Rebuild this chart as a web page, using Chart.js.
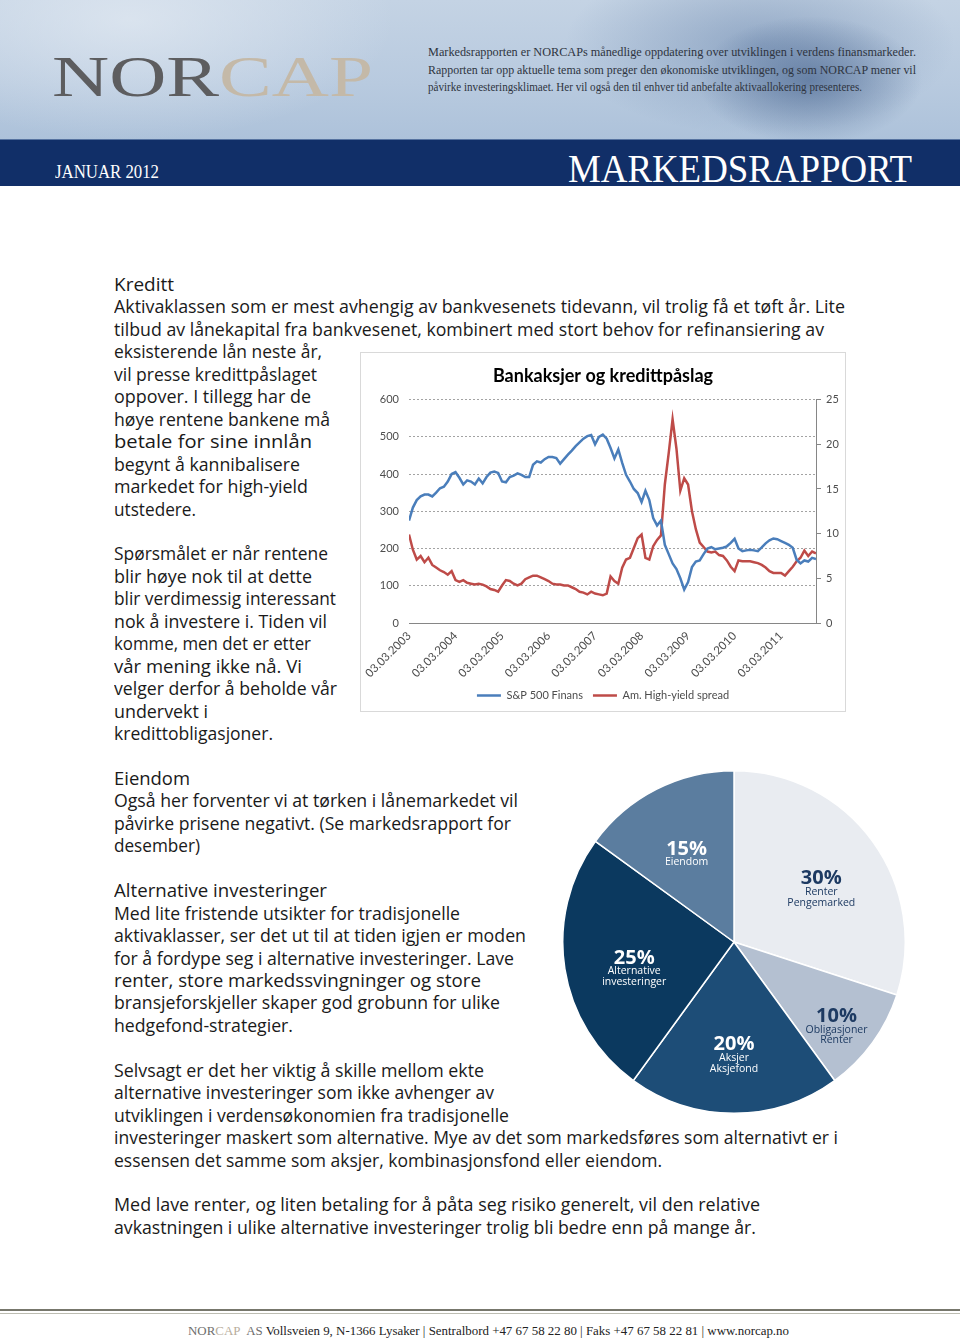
<!DOCTYPE html>
<html lang="no">
<head>
<meta charset="utf-8">
<title>NORCAP Markedsrapport januar 2012</title>
<script src="https://cdn.jsdelivr.net/npm/chart.js@4.4.1/dist/chart.umd.min.js"></script>
<style>
  html, body { margin: 0; padding: 0; background: #fff; }
  #page { position: relative; width: 960px; height: 1341px; overflow: hidden; background: #fff; }
  #header {
    position: absolute; left: 0; top: 0; width: 960px; height: 140px;
    background:
      radial-gradient(ellipse 150px 85px at 810px 80px, rgba(55,85,130,0.55), rgba(55,85,130,0) 75%),
      radial-gradient(ellipse 260px 120px at 760px 45px, rgba(90,120,162,0.45), rgba(90,120,162,0) 75%),
      radial-gradient(ellipse 330px 150px at 130px 20px, rgba(228,235,243,0.7), rgba(228,235,243,0) 80%),
      linear-gradient(180deg, #c4d3e4 0%, #b8cadf 60%, #adc2da 100%);
  }
  #band { position: absolute; left: 0; top: 139px; width: 960px; height: 46px; background: #112f68; border-top: 1px solid #5673a0; }
  .ln { position: absolute; white-space: nowrap; transform-origin: 0 0; }
  .serif { font-family: "Liberation Serif", "DejaVu Serif", serif; }
  .txt { font-family: "Open Sans", "Noto Sans", sans-serif; font-size: 18px; line-height: 22px; color: #1a1a1a; left: 114px; }
  #lineBox { position: absolute; left: 360px; top: 352px; width: 484px; height: 358px; border: 1px solid #d9d9d9; background: #fff; }
  #pieBox { position: absolute; left: 562px; top: 770px; width: 344px; height: 344px; }
  #rule1 { position: absolute; left: 0; top: 1309px; width: 960px; height: 2px; background: #77776c; }
  #rule2 { position: absolute; left: 0; top: 1313px; width: 960px; height: 1px; background: #bdbdb2; }
</style>
</head>
<body>
<div id="page">
  <div id="header"></div>
  <div id="band"></div>

  <div class="ln serif" data-w="321" style="left:52px; top:48px; font-size:58px; line-height:58px;"><span style="color:#5d5d5f">NOR</span><span style="color:#c4b9a8">CAP</span></div>

  <div class="ln serif" data-w="488" style="left:428px; top:45px; font-size:11.5px; line-height:14px; color:#2e3440;">Markedsrapporten er NORCAPs månedlige oppdatering over utviklingen i verdens finansmarkeder.</div>
  <div class="ln serif" data-w="488" style="left:428px; top:63px; font-size:11.5px; line-height:14px; color:#2e3440;">Rapporten tar opp aktuelle tema som preger den økonomiske utviklingen, og som NORCAP mener vil</div>
  <div class="ln serif" data-w="434" style="left:428px; top:80px; font-size:11.5px; line-height:14px; color:#2e3440;">påvirke investeringsklimaet. Her vil også den til enhver tid anbefalte aktivaallokering presenteres.</div>

  <div class="ln serif" data-w="104" style="left:55px; top:163px; font-size:18px; line-height:18px; color:#fff;">JANUAR 2012</div>
  <div class="ln serif" data-w="344" style="left:568px; top:148px; font-size:41px; line-height:41px; color:#fff;">MARKEDSRAPPORT</div>

  <div id="lineBox"><canvas id="lineChart" width="484" height="358"></canvas></div>
  <div id="pieBox"><canvas id="pieChart" width="344" height="344"></canvas></div>

  <div id="rule1"></div>
  <div id="rule2"></div>
  <div class="ln serif" data-w="601" style="left:188px; top:1323px; font-size:13px; line-height:15px; color:#222;"><span style="color:#6e6e6e">NOR</span><span style="color:#b8ad9c">CAP</span><span style="color:#6e6e6e">&nbsp; AS</span> Vollsveien 9, N-1366 Lysaker | Sentralbord +47 67 58 22 80 | Faks +47 67 58 22 81 | www.norcap.no</div>
</div>

<script>
// Line chart data: monthly readings, March 2003 - December 2011
const yearTicks = ['03.03.2003', '03.03.2004', '03.03.2005', '03.03.2006', '03.03.2007',
  '03.03.2008', '03.03.2009', '03.03.2010', '03.03.2011'];

const sp500Finans = [
  275, 310, 330, 340, 345, 345, 340, 350, 362, 366,
  380, 400, 405, 390, 372, 383, 380, 372, 388, 375,
  392, 404, 407, 403, 380, 378, 392, 396, 402, 398,
  392, 392, 425, 434, 431, 440, 446, 446, 443, 428,
  440, 452, 463, 475, 485, 495, 502, 505, 480, 500,
  506, 495, 470, 442, 466, 430, 398, 380, 360, 349,
  325, 355, 330, 282, 262, 275, 210, 185, 160, 145,
  120, 90, 110, 150, 165, 168, 185, 200, 204, 198,
  200, 202, 206, 215, 226, 200, 193, 195, 197, 195,
  193, 203, 214, 222, 227, 225, 220, 215, 210, 202,
  170, 160, 168, 165, 175, 172
];

const highYieldSpread = [
  9.9, 8.2, 7.1, 7.5, 6.8, 7.3, 6.5, 6.2, 5.9, 5.7,
  5.4, 5.8, 4.8, 4.6, 4.8, 4.5, 4.4, 4.3, 4.4, 4.3,
  4.1, 3.8, 3.7, 3.5, 4.2, 4.8, 4.7, 4.4, 4.2, 4.4,
  4.9, 5.1, 5.3, 5.3, 5.1, 4.9, 4.7, 4.4, 4.3, 4.3,
  4.2, 4.2, 4.0, 3.8, 3.5, 3.4, 3.2, 3.5, 3.3, 3.2,
  3.1, 3.3, 5.2, 4.7, 4.4, 6.2, 7.1, 7.3, 8.4, 9.5,
  9.9, 7.3, 7.1, 8.6, 9.3, 9.8, 15.5, 19.0, 22.8, 19.5,
  14.8, 16.2, 15.5, 12.5, 10.5, 9.0, 8.5, 8.0, 7.9, 8.0,
  7.6, 7.5, 7.0, 6.3, 5.8, 7.0, 6.9, 6.9, 6.9, 6.8,
  6.7, 6.5, 6.2, 5.8, 5.6, 5.6, 5.6, 5.3, 5.8, 6.3,
  6.9, 7.3, 8.1, 7.5, 8.0, 7.8
];

// Pie chart data (clockwise from 12 o'clock)
const pieValues = [30, 10, 20, 25, 15];
const pieNames = [
  ['Renter', 'Pengemarked'],
  ['Obligasjoner', 'Renter'],
  ['Aksjer', 'Aksjefond'],
  ['Alternative', 'investeringer'],
  ['Eiendom']
];

// Body text lines, one entry per printed line (null = blank line), with target width
const bodyLines = [
  ['Kreditt', 60],
  ['Aktivaklassen som er mest avhengig av bankvesenets tidevann, vil trolig få et tøft år. Lite', 731],
  ['tilbud av lånekapital fra bankvesenet, kombinert med stort behov for refinansiering av', 710],
  ['eksisterende lån neste år,', 208],
  ['vil presse kredittpåslaget', 203],
  ['oppover. I tillegg har de', 197],
  ['høye rentene bankene må', 216],
  ['betale for sine innlån', 198],
  ['begynt å kannibalisere', 186],
  ['markedet for high-yield', 194],
  ['utstedere.', 82],
  null,
  ['Spørsmålet er når rentene', 214],
  ['blir høye nok til at dette', 198],
  ['blir verdimessig interessant', 222],
  ['nok å investere i. Tiden vil', 213],
  ['komme, men det er etter', 197],
  ['vår mening ikke nå. Vi', 188],
  ['velger derfor å beholde vår', 223],
  ['undervekt i', 94],
  ['kredittobligasjoner.', 159],
  null,
  ['Eiendom', 76],
  ['Også her forventer vi at tørken i lånemarkedet vil', 404],
  ['påvirke prisene negativt. (Se markedsrapport for', 397],
  ['desember)', 86],
  null,
  ['Alternative investeringer', 213],
  ['Med lite fristende utsikter for tradisjonelle', 346],
  ['aktivaklasser, ser det ut til at tiden igjen er moden', 412],
  ['for å fordype seg i alternative investeringer. Lave', 400],
  ['renter, store markedssvingninger og store', 367],
  ['bransjeforskjeller skaper god grobunn for ulike', 386],
  ['hedgefond-strategier.', 179],
  null,
  ['Selvsagt er det her viktig å skille mellom ekte', 370],
  ['alternative investeringer som ikke avhenger av', 380],
  ['utviklingen i verdensøkonomien fra tradisjonelle', 395],
  ['investeringer maskert som alternative. Mye av det som markedsføres som alternativt er i', 724],
  ['essensen det samme som aksjer, kombinasjonsfond eller eiendom.', 548],
  null,
  ['Med lave renter, og liten betaling for å påta seg risiko generelt, vil den relative', 646],
  ['avkastningen i ulike alternative investeringer trolig bli bedre enn på mange år.', 642]
];

const page = document.getElementById('page');

function addBodyText() {
  bodyLines.forEach((line, k) => {
    if (!line) return;
    const el = document.createElement('div');
    el.className = 'ln txt';
    el.textContent = line[0];
    el.dataset.w = line[1];
    el.style.top = (273 + 22.45 * k) + 'px';
    page.appendChild(el);
  });
}

// squeeze / stretch each printed line to the width it has in the scan
function fitLines() {
  document.querySelectorAll('[data-w]').forEach(el => {
    const w = el.getBoundingClientRect().width;
    if (w > 0) el.style.transform = `scaleX(${el.dataset.w / w})`;
  });
}

const chartFont = '"Lato", "Open Sans", sans-serif';
const axisGrey = '#4d4d4d';

function initLineChart() {
  new Chart(document.getElementById('lineChart'), {
    type: 'line',
    data: {
      datasets: [
        {
          label: 'S&P 500 Finans',
          data: sp500Finans.map((y, x) => ({ x, y })),
          borderColor: '#4a7ebb',
          backgroundColor: '#4a7ebb',
          borderWidth: 2.5,
          pointRadius: 0,
          tension: 0,
          yAxisID: 'y'
        },
        {
          label: 'Am. High-yield spread',
          data: highYieldSpread.map((y, x) => ({ x, y })),
          borderColor: '#be4b48',
          backgroundColor: '#be4b48',
          borderWidth: 2.5,
          pointRadius: 0,
          tension: 0,
          yAxisID: 'y1'
        }
      ]
    },
    options: {
      responsive: false,
      animation: false,
      layout: { padding: 0 },
      plugins: {
        title: {
          display: true,
          text: 'Bankaksjer og kredittpåslag',
          color: '#000',
          font: { family: chartFont, size: 18, weight: 'bold' },
          padding: { top: 12, bottom: 13 }
        },
        legend: {
          position: 'bottom',
          labels: {
            usePointStyle: true,
            pointStyle: 'line',
            pointStyleWidth: 24,
            color: axisGrey,
            font: { family: chartFont, size: 11 },
            padding: 10
          }
        },
        tooltip: { enabled: false }
      },
      scales: {
        x: {
          type: 'linear',
          min: 0,
          max: sp500Finans.length - 1,
          grid: { display: true, drawOnChartArea: false, drawTicks: false },
          border: { display: true, color: '#868686' },
          ticks: {
            stepSize: 12,
            includeBounds: false,
            autoSkip: false,
            minRotation: 45,
            maxRotation: 45,
            padding: 6,
            color: axisGrey,
            font: { family: chartFont, size: 11.5 },
            callback: v => yearTicks[v / 12] || ''
          },
          afterFit: s => { s.height = 57; }
        },
        y: {
          position: 'left',
          min: 0,
          max: 600,
          grid: { color: '#a3a3a3', drawTicks: false },
          border: { display: false, dash: [2, 2] },
          ticks: { stepSize: 100, padding: 10, color: axisGrey, font: { family: chartFont, size: 11 } },
          afterFit: s => { s.width = 48; }
        },
        y1: {
          position: 'right',
          min: 0,
          max: 25,
          grid: { drawOnChartArea: false, drawTicks: true, tickLength: 5, color: '#868686' },
          border: { display: true, color: '#868686' },
          ticks: { stepSize: 5, padding: 5, color: axisGrey, font: { family: chartFont, size: 11 } },
          afterFit: s => { s.width = 29; }
        }
      }
    }
  });
}

// slice labels: percentage + one or two name lines
const pieLabelPlugin = {
  id: 'pieLabels',
  afterDatasetsDraw(chart, args, opts) {
    const ctx = chart.ctx;
    const meta = chart.getDatasetMeta(0);
    meta.data.forEach((arc, i) => {
      const mid = (arc.startAngle + arc.endAngle) / 2;
      const r = arc.outerRadius * opts.radius[i];
      const x = arc.x + Math.cos(mid) * r;
      const y = arc.y + Math.sin(mid) * r;
      ctx.save();
      ctx.fillStyle = opts.colors[i];
      ctx.textAlign = 'center';
      ctx.textBaseline = 'middle';
      ctx.font = 'bold 20px "Open Sans", sans-serif';
      ctx.fillText(pieValues[i] + '%', x, y);
      ctx.font = '10.5px "Open Sans", sans-serif';
      pieNames[i].forEach((t, j) => ctx.fillText(t, x, y + 13.5 + j * 10.5));
      ctx.restore();
    });
  }
};

function initPieChart() {
  new Chart(document.getElementById('pieChart'), {
    type: 'pie',
    data: {
      labels: pieNames.map(n => n.join(' ')),
      datasets: [{
        data: pieValues,
        backgroundColor: ['#e9ecf1', '#b4c0d1', '#1d4d77', '#0b395f', '#5b7d9f'],
        borderColor: '#ffffff',
        borderWidth: 1.5
      }]
    },
    options: {
      responsive: false,
      animation: false,
      layout: { padding: 0 },
      plugins: {
        legend: { display: false },
        tooltip: { enabled: false },
        pieLabels: {
          radius: [0.63, 0.74, 0.6, 0.59, 0.61],
          colors: ['#1d3a62', '#1d3a62', '#ffffff', '#ffffff', '#ffffff']
        }
      }
    },
    plugins: [pieLabelPlugin]
  });
}

document.addEventListener('DOMContentLoaded', () => {
  addBodyText();
  document.fonts.ready.then(() => {
    fitLines();
    initLineChart();
    initPieChart();
  });
});
</script>
</body>
</html>
